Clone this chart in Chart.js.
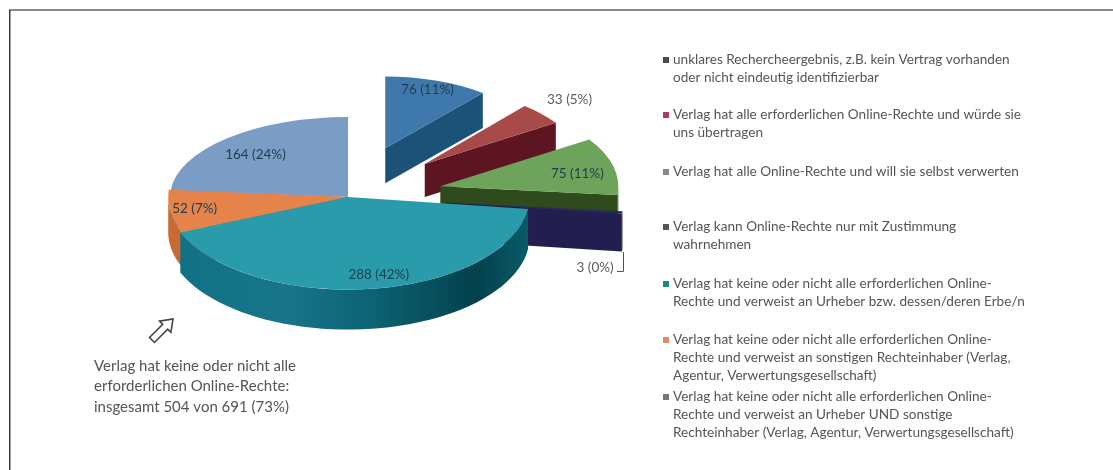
<!DOCTYPE html>
<html>
<head>
<meta charset="utf-8">
<title>Online-Rechte</title>
<script src="https://cdn.jsdelivr.net/npm/chart.js@4/dist/chart.umd.js"></script>
<style>
    html, body { margin: 0; padding: 0; background: #fff; }
    canvas { display: block; }
</style>
</head>
<body>
<canvas id="rechteChart" width="1113" height="470"></canvas>
<script>
// slices, clockwise from twelve o'clock
const sliceValues = [76, 33, 75, 3, 288, 52, 164];
const slicePercents = [11, 5, 11, 0, 42, 7, 24];
const topColors = ["#3f79ab", "#a94a4a", "#6ea35b", "#2b2760", "#2a9bab", "#e5834b", "#7b9cc5"];
const sideColors = ["#1c5278", "#5e1522", "#2f4a1d", "#231e50", "#0d6576", "#c86b33", "#5c7da6"];
const explode = [110, 103, 95, 98, 0, 0, 0];
const shrink = [0.86, 0.88, 1, 1, 1.02, 1.01, 1];
const tilts = [0.47, 0.48, 0.48, 0.48, 0.51, 0.51, 0.45];
const depths = [35, 33, 35, 38, 40, 35, 35];
const drawOrder = [0, 1, 2, 3, 6, 5, 4];
const labelNudge = [[6, -11], [63, -29], [16, 2], [26, 58], [14, 13], [-29, 2], [-8, -1]];

const legendSwatches = ["#4a4a50", "#b03a5b", "#85878a", "#55555a", "#1f8a7f", "#e58a68", "#77777d"];
const legendLines = [
    ["unklares Rechercheergebnis, z.B. kein Vertrag vorhanden", "oder nicht eindeutig identifizierbar"],
    ["Verlag hat alle erforderlichen Online-Rechte und würde sie", "uns übertragen"],
    ["Verlag hat alle Online-Rechte und will sie selbst verwerten"],
    ["Verlag kann Online-Rechte nur mit Zustimmung", "wahrnehmen"],
    ["Verlag hat keine oder nicht alle erforderlichen Online-", "Rechte und verweist an Urheber bzw. dessen/deren Erbe/n"],
    ["Verlag hat keine oder nicht alle erforderlichen Online-", "Rechte und verweist an sonstigen Rechteinhaber (Verlag,", "Agentur, Verwertungsgesellschaft)"],
    ["Verlag hat keine oder nicht alle erforderlichen Online-", "Rechte und verweist an Urheber UND sonstige", "Rechteinhaber (Verlag, Agentur, Verwertungsgesellschaft)"]
];
const legendRows = [60, 115, 172, 227, 284, 340, 397];
const summaryLines = ["Verlag hat keine oder nicht alle", "erforderlichen Online-Rechte:", "insgesamt 504 von 691 (73%)"];

const textFont = "Lato";

function slicePoint(arc, i, a, r) {
    // screen position of a point on slice i, given angle and radius
    const o = explode[i];
    const mid = (arc.startAngle + arc.endAngle) / 2;
    const px = o * Math.cos(mid) + shrink[i] * r * Math.cos(a);
    const py = o * Math.sin(mid) + shrink[i] * r * Math.sin(a);
    return { x: arc.x + px, y: arc.y + tilts[i] * py };
}

function traceRim(ctx, arc, i, from, to, drop) {
    const steps = 48;
    for (let s = 0; s <= steps; s++) {
        const a = from + (to - from) * s / steps;
        const p = slicePoint(arc, i, a, arc.outerRadius);
        ctx.lineTo(p.x, p.y + drop);
    }
}

function drawCutFace(ctx, arc, i, a, fill) {
    const d = depths[i];
    const inner = slicePoint(arc, i, a, 0);
    const outer = slicePoint(arc, i, a, arc.outerRadius);
    ctx.beginPath();
    ctx.moveTo(inner.x, inner.y);
    ctx.lineTo(outer.x, outer.y);
    ctx.lineTo(outer.x, outer.y + d);
    ctx.lineTo(inner.x, inner.y + d);
    ctx.closePath();
    ctx.fillStyle = fill;
    ctx.fill();
}

function drawRimFace(ctx, arc, i) {
    // only the part of the rim that faces the viewer
    const from = Math.max(arc.startAngle, 0);
    const to = Math.min(arc.endAngle, Math.PI);
    if (to <= from) return;
    const left = slicePoint(arc, i, to, arc.outerRadius).x;
    const right = slicePoint(arc, i, from, arc.outerRadius).x;
    let fill = sideColors[i];
    if (i === 4) {
        fill = ctx.createLinearGradient(left, 0, right, 0);
        fill.addColorStop(0, "#137186");
        fill.addColorStop(0.3, "#17758a");
        fill.addColorStop(0.55, "#0c6373");
        fill.addColorStop(0.85, "#03414d");
        fill.addColorStop(1, "#0a5a68");
    }
    ctx.beginPath();
    traceRim(ctx, arc, i, from, to, 0);
    traceRim(ctx, arc, i, to, from, depths[i]);
    ctx.closePath();
    ctx.fillStyle = fill;
    ctx.fill();
}

function drawHollowArrow(ctx, tailX, tailY, tipX, tipY) {
    const len = Math.hypot(tipX - tailX, tipY - tailY);
    ctx.save();
    ctx.translate(tailX, tailY);
    ctx.rotate(Math.atan2(tipY - tailY, tipX - tailX));
    ctx.beginPath();
    ctx.moveTo(0, -3.5);
    ctx.lineTo(len - 11, -3.5);
    ctx.lineTo(len - 11, -8);
    ctx.lineTo(len, 0);
    ctx.lineTo(len - 11, 8);
    ctx.lineTo(len - 11, 3.5);
    ctx.lineTo(0, 3.5);
    ctx.closePath();
    ctx.fillStyle = "#fff";
    ctx.fill();
    ctx.strokeStyle = "#444";
    ctx.lineWidth = 1.6;
    ctx.stroke();
    ctx.restore();
}

const pie3d = {
    id: "pie3d",
    beforeDatasetDraw(chart, args) {
        const ctx = chart.ctx;
        const arcs = args.meta.data;
        drawOrder.forEach(function(i) {
            const arc = arcs[i];
            drawRimFace(ctx, arc, i);
            if (Math.sin(arc.endAngle + Math.PI / 2) > 0.01) drawCutFace(ctx, arc, i, arc.endAngle, sideColors[i]);
            if (Math.sin(arc.startAngle - Math.PI / 2) > 0.01) drawCutFace(ctx, arc, i, arc.startAngle, sideColors[i]);

            // top face goes through the arc element, flattened onto the tilted plane
            const mid = (arc.startAngle + arc.endAngle) / 2;
            const s = shrink[i];
            ctx.save();
            ctx.translate(arc.x, arc.y);
            ctx.scale(1, tilts[i]);
            ctx.translate(explode[i] * Math.cos(mid), explode[i] * Math.sin(mid));
            ctx.scale(s, s);
            ctx.translate(-arc.x, -arc.y);
            arc.draw(ctx);
            ctx.restore();
        });
        return false;
    },
    afterDatasetsDraw(chart) {
        const ctx = chart.ctx;
        const arcs = chart.getDatasetMeta(0).data;
        ctx.save();

        // frame, open on the right and at the bottom
        ctx.fillStyle = "#8a8a8a";
        ctx.fillRect(9, 9, 1104, 2);
        ctx.fillStyle = "#3a3a3a";
        ctx.fillRect(9, 10, 1.5, 460);

        // value labels
        ctx.font = "13.5px " + textFont;
        ctx.textAlign = "center";
        ctx.textBaseline = "middle";
        arcs.forEach(function(arc, i) {
            const mid = (arc.startAngle + arc.endAngle) / 2;
            const p = slicePoint(arc, i, mid, arc.outerRadius * 0.7);
            ctx.fillStyle = i === 1 || i === 3 ? "#5a5a5a" : "#1f3f50";
            ctx.fillText(sliceValues[i] + " (" + slicePercents[i] + "%)", p.x + labelNudge[i][0], p.y + labelNudge[i][1]);
        });

        // leader for the smallest slice
        ctx.strokeStyle = "#555";
        ctx.lineWidth = 1;
        ctx.beginPath();
        ctx.moveTo(623.5, 252);
        ctx.lineTo(623.5, 271.5);
        ctx.lineTo(617, 271.5);
        ctx.stroke();

        // legend
        ctx.textAlign = "left";
        ctx.font = "13.6px " + textFont;
        legendLines.forEach(function(lines, i) {
            ctx.fillStyle = legendSwatches[i];
            ctx.fillRect(663, legendRows[i] - 3, 6, 6);
            ctx.fillStyle = "#555";
            lines.forEach(function(line, n) {
                ctx.fillText(line, 673, legendRows[i] + n * 17.8);
            });
        });

        // summary note with its hollow arrow
        ctx.font = "15px " + textFont;
        summaryLines.forEach(function(line, n) {
            ctx.fillText(line, 94, 366 + n * 20.5);
        });
        drawHollowArrow(ctx, 152, 340, 173, 319);
        ctx.restore();
    }
};

new Chart(document.getElementById("rechteChart"), {
    type: "pie",
    data: {
        labels: legendLines.map(function(lines) { return lines.join(" "); }),
        datasets: [{
            data: sliceValues,
            backgroundColor: topColors,
            borderWidth: 0
        }]
    },
    options: {
        responsive: false,
        animation: false,
        radius: 178,
        layout: { padding: { left: 0, top: 0, right: 417, bottom: 76 } },
        plugins: { legend: { display: false }, tooltip: { enabled: false } },
        events: []
    },
    plugins: [pie3d]
});
</script>
</body>
</html>
